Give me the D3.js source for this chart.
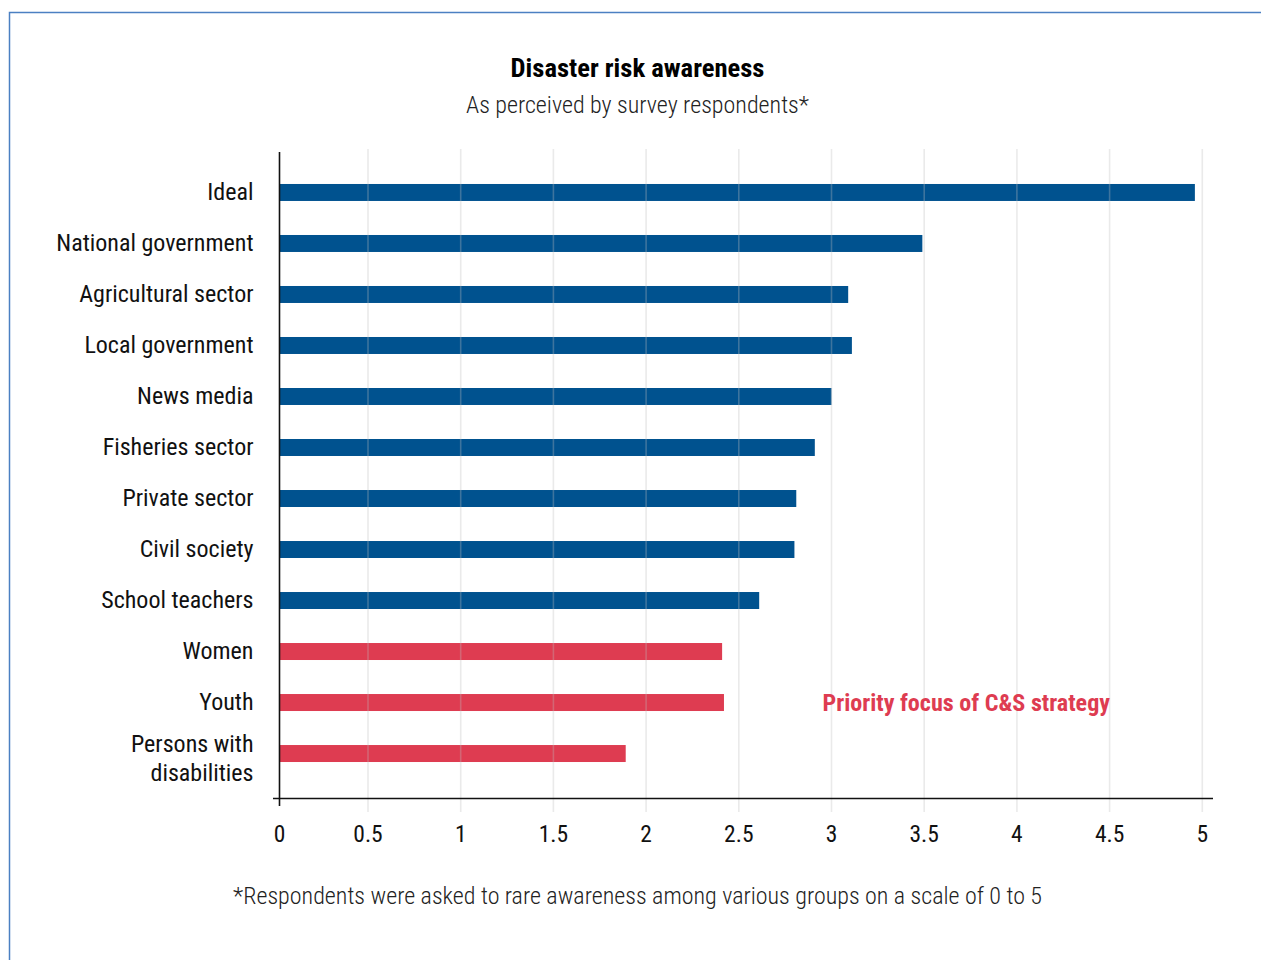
<!DOCTYPE html>
<html>
<head>
<meta charset="utf-8">
<script src="https://cdn.jsdelivr.net/npm/d3@7"></script>
<style>
  html, body { margin: 0; padding: 0; background: #fff; }
  svg { display: block; }
  .cond { font-family: "Roboto Condensed", "Liberation Sans Narrow", "Roboto", sans-serif; }
</style>
</head>
<body>
<svg id="chart" width="1261" height="960"></svg>
<script>
const categories = ["Ideal", "National government", "Agricultural sector", "Local government", "News media",
  "Fisheries sector", "Private sector", "Civil society", "School teachers", "Women", "Youth", "Persons with disabilities"];
const values = [4.96, 3.49, 3.09, 3.11, 3.00, 2.91, 2.81, 2.80, 2.61, 2.41, 2.42, 1.89];
const groups = ["other", "other", "other", "other", "other", "other", "other", "other", "other", "priority", "priority", "priority"];
const tickValues = [0, 0.5, 1, 1.5, 2, 2.5, 3, 3.5, 4, 4.5, 5];
const title = "Disaster risk awareness";
const subtitle = "As perceived by survey respondents*";
const footnote = "*Respondents were asked to rare awareness among various groups on a scale of 0 to 5";
const annotation = "Priority focus of C&S strategy";

const colors = { other: "#00528f", priority: "#de3c51" };

const svg = d3.select("#chart");

// frame
svg.append("rect").attr("x", 9.5).attr("y", 12.5).attr("width", 1400).attr("height", 1100)
  .attr("fill", "none").attr("stroke", "#4b80c2").attr("stroke-width", 1.5);

const x = d3.scaleLinear().domain([0, 5]).range([275.3, 1202.3]);
const axisX = 279.5;
const y = d3.scaleBand().domain(categories).range([167, 779]).paddingInner(0.667).paddingOuter(0.333);
const axisY = 798.5;

// title
svg.append("text").attr("class", "cond").attr("x", 637.5).attr("y", 77)
  .attr("text-anchor", "middle").attr("font-size", 26.6).attr("font-weight", 700).attr("fill", "#000")
  .text(title);
svg.append("text").attr("class", "cond").attr("x", 637.5).attr("y", 113)
  .attr("text-anchor", "middle").attr("font-size", 24).attr("font-weight", 300).attr("fill", "#222")
  .text(subtitle);

// bars
svg.append("g").selectAll("rect").data(categories).join("rect")
  .attr("x", axisX)
  .attr("y", d => y(d))
  .attr("width", (d, i) => x(values[i]) - axisX)
  .attr("height", y.bandwidth())
  .attr("fill", (d, i) => colors[groups[i]]);

// gridlines (drawn over bars, translucent)
svg.append("g").selectAll("line").data(tickValues.filter(t => t > 0)).join("line")
  .attr("x1", d => x(d)).attr("x2", d => x(d))
  .attr("y1", 149).attr("y2", 812)
  .attr("stroke", "rgb(190,190,190)").attr("stroke-opacity", 0.32).attr("stroke-width", 1.6);

// y axis line
svg.append("line").attr("x1", axisX).attr("x2", axisX).attr("y1", 152).attr("y2", 806)
  .attr("stroke", "#111").attr("stroke-width", 1.6);
// x axis line
svg.append("line").attr("x1", 273).attr("x2", 1213).attr("y1", axisY).attr("y2", axisY)
  .attr("stroke", "#111").attr("stroke-width", 1.6);

// x tick labels
svg.append("g").selectAll("text").data(tickValues).join("text")
  .attr("class", "cond")
  .attr("x", d => d === 0 ? axisX : x(d))
  .attr("y", 841.5)
  .attr("text-anchor", "middle").attr("font-size", 23.5).attr("fill", "#111")
  .text(d => d3.format("~g")(d));

// category labels
const labelG = svg.append("g");
categories.forEach((c, i) => {
  const cy = y(c) + y.bandwidth() / 2;
  const t = labelG.append("text").attr("class", "cond")
    .attr("x", 253.5).attr("text-anchor", "end").attr("font-size", 24).attr("fill", "#111");
  if (c === "Persons with disabilities") {
    t.append("tspan").attr("x", 253.5).attr("y", cy - 1.3).text("Persons with");
    t.append("tspan").attr("x", 253.5).attr("y", cy + 27.7).text("disabilities");
  } else {
    t.attr("y", cy + 7.5).text(c);
  }
});

// annotation
svg.append("text").attr("class", "cond").attr("x", 822.5).attr("y", 710.5)
  .attr("font-size", 24.1).attr("font-weight", 700).attr("fill", colors.priority)
  .text(annotation);

// footnote
svg.append("text").attr("class", "cond").attr("x", 637.5).attr("y", 904)
  .attr("text-anchor", "middle").attr("font-size", 24).attr("font-weight", 300).attr("fill", "#222")
  .text(footnote);
</script>
</body>
</html>
